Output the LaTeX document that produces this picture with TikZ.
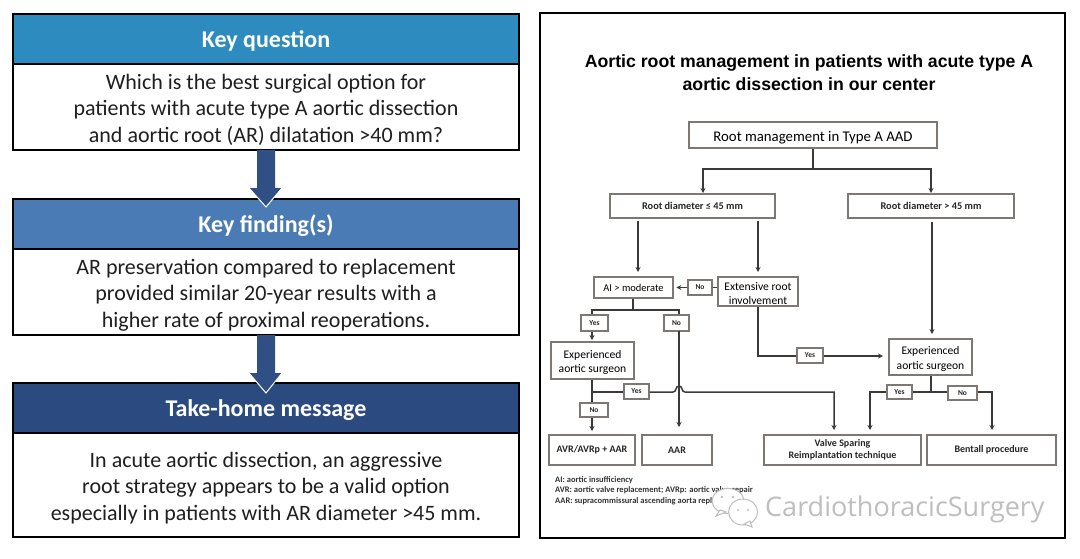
\documentclass[tikz,border=0pt]{standalone}
\usepackage{fontspec}
\setmainfont{Carlito}
\newfontfamily\titlefont{Liberation Sans}
\newfontfamily\markfont{Open Sans}
\usetikzlibrary{arrows.meta}
\definecolor{headone}{HTML}{2E8BC0}
\definecolor{headtwo}{HTML}{4A7BB5}
\definecolor{headthree}{HTML}{2B4A80}
\definecolor{bigarrow}{HTML}{2F4F85}
\definecolor{boxline}{HTML}{7D7873}
\definecolor{linkline}{HTML}{3C3A38}
\definecolor{marktext}{HTML}{BEBEBE}
\newcommand{\lift}{\rule{0pt}{21pt}}
\newcommand{\liftsmall}{\rule{0pt}{12pt}}
\tikzset{
	headbox/.style={draw=black,line width=1.8,text=white,minimum width=506,minimum height=50,inner sep=0,font=\fontsize{24}{26}\selectfont\bfseries},
	bodybox/.style={draw=black,line width=1.8,fill=white,text=black!88,minimum width=506,inner sep=0,align=center,font=\fontsize{22}{26.5}\selectfont},
	flowbox/.style={draw=boxline,line width=1.3,fill=white,text=black,inner sep=0,align=center,font=\fontsize{11.6}{14.5}\selectfont},
	boldbox/.style={flowbox,text=black!85,font=\fontsize{10}{12.5}\selectfont\bfseries},
	tagbox/.style={flowbox,text=black!85,font=\fontsize{7.5}{9}\selectfont\bfseries},
	link/.style={draw=linkline,line width=1.5},
	linkto/.style={link,-{Stealth[length=5pt,width=5pt]}},
	notetext/.style={anchor=west,inner sep=0,text=black!80,font=\fontsize{8.5}{10}\selectfont\bfseries}
}
\begin{document}
\begin{tikzpicture}[x=1pt,y=-1pt]
	\useasboundingbox (0,0) rectangle (1080,558);
	% left panel
	\node[bodybox,minimum height=86] (qbody) at (266,107) {\lift Which is the best surgical option for\\patients with acute type A aortic dissection\\and aortic root (AR) dilatation >40 mm?};
	\node[headbox,fill=headone] (qhead) at (266,39) {\lift Key question};
	\node[bodybox,minimum height=86] (fbody) at (266,292) {\lift AR preservation compared to replacement\\provided similar 20-year results with a\\higher rate of proximal reoperations.};
	\node[headbox,fill=headtwo] (fhead) at (266,224) {\lift Key finding(s)};
	\node[bodybox,minimum height=104] (mbody) at (266,485) {\lift In acute aortic dissection, an aggressive\\root strategy appears to be a valid option\\especially in patients with AR diameter >45 mm.};
	\node[headbox,fill=headthree] (mhead) at (266,408) {\lift Take-home message};
	\fill[bigarrow] (257,150) -- (275,150) -- (275,188) -- (282,188) -- (266,207) -- (249,188) -- (257,188) -- cycle;
	\draw[white,line width=1] (282,188) -- (266,207) -- (249,188);
	\fill[bigarrow] (257,335) -- (275,335) -- (275,373) -- (282,373) -- (266,393) -- (249,373) -- (257,373) -- cycle;
	\draw[white,line width=1] (282,373) -- (266,393) -- (249,373);
	% right panel
	\draw[line width=1.8] (540,13) rectangle (1065,538);
	\node[align=center,inner sep=0,font=\titlefont\fontsize{17.7}{23}\selectfont\bfseries] (heading) at (809,73) {Aortic root management in patients with acute type A\\aortic dissection in our center};
	\node[flowbox,minimum width=248,minimum height=26,font=\fontsize{14.8}{16}\selectfont] (root) at (813,135) {\rule{0pt}{15pt}Root management in Type A AAD};
	\node[boldbox,minimum width=165,minimum height=24,font=\fontsize{10.3}{12.5}\selectfont\bfseries] (small) at (692.5,206) {Root diameter ≤ 45 mm};
	\node[boldbox,minimum width=166,minimum height=24,font=\fontsize{10.3}{12.5}\selectfont\bfseries] (large) at (931,206) {Root diameter > 45 mm};
	\node[flowbox,minimum width=79,minimum height=21,font=\fontsize{10.5}{13}\selectfont] (insuf) at (633.5,287.5) {AI > moderate};
	\node[tagbox,minimum width=24,minimum height=15] (nocross) at (700,287.5) {No};
	\node[flowbox,minimum width=80,minimum height=29] (extent) at (758,291.5) {\liftsmall Extensive root\\involvement};
	\node[tagbox,minimum width=27,minimum height=16] (yesa) at (594.5,323) {Yes};
	\node[tagbox,minimum width=25,minimum height=16] (noa) at (676.5,323) {No};
	\node[flowbox,minimum width=83,minimum height=37] (surgleft) at (592.5,360.5) {\liftsmall Experienced\\aortic surgeon};
	\node[tagbox,minimum width=25,minimum height=15] (yesb) at (636.5,391.5) {Yes};
	\node[tagbox,minimum width=28,minimum height=14] (nob) at (594,410) {No};
	\node[tagbox,minimum width=26,minimum height=15] (yesc) at (810,355.5) {Yes};
	\node[flowbox,minimum width=83,minimum height=36] (surgright) at (930.5,357) {\liftsmall Experienced\\aortic surgeon};
	\node[tagbox,minimum width=25,minimum height=14] (yesd) at (899.5,392) {Yes};
	\node[tagbox,minimum width=29,minimum height=14] (nod) at (962.5,393) {No};
	\node[boldbox,minimum width=86,minimum height=30] (avr) at (592,450) {AVR/AVRp + AAR};
	\node[boldbox,minimum width=70,minimum height=30] (aar) at (677,450) {AAR};
	\node[boldbox,minimum width=157,minimum height=30] (valve) at (842.5,450) {Valve Sparing\\Reimplantation technique};
	\node[boldbox,minimum width=129,minimum height=30] (bentall) at (991.5,450) {Bentall procedure};
	% junctions and free ends
	\coordinate (split) at (813,169);
	\coordinate (smallin) at (703,193);
	\coordinate (largein) at (931,193);
	\coordinate (smalla) at (638,221);
	\coordinate (smallb) at (758,221);
	\coordinate (largeout) at (932,222);
	\coordinate (insufsplit) at (633,310);
	\coordinate (surgsplit) at (592,392);
	\coordinate (noaline) at (679,331);
	\coordinate (rightsplit) at (931,392);
	\coordinate (extturn) at (758,356);
	% connectors
	\draw[link] (root.south -| split) -- (split);
	\draw[linkto] (split) -| (smallin);
	\draw[linkto] (split) -| (largein);
	\draw[linkto] (smalla) -- (638,272);
	\draw[linkto] (smallb) -- (758,272);
	\draw[linkto] (largeout) -- (932,334);
	\draw[link] (extent.west |- nocross) -- (nocross.east);
	\draw[linkto] (nocross.west) -- ++(-11,0);
	\draw[link] (insuf.south -| insufsplit) -- (insufsplit);
	\draw[link] (insufsplit) -| (surgsplit |- yesa.north);
	\draw[link] (insufsplit) -| (noaline |- noa.north);
	\draw[linkto] (surgsplit |- yesa.south) -- (surgsplit |- 0,340);
	\draw[linkto] (noaline) -- (679,427);
	\draw[link] (surgsplit |- surgleft.south) -- (surgsplit |- nob.north);
	\draw[linkto] (surgsplit |- nob.south) -- (surgsplit |- 0,431);
	\draw[link] (surgsplit) -- (yesb.west |- surgsplit);
	\draw[linkto] (yesb.east |- surgsplit) -- (673,392) .. controls (677,392) and (675,386) .. (679,386) .. controls (683,386) and (681,392) .. (685,392) -- (834,392) -- (834,430);
	\draw[link] (extent.south) |- (extturn) -- (yesc.west |- extturn);
	\draw[linkto] (yesc.east |- extturn) -- (883,356);
	\draw[link] (rightsplit |- surgright.south) -- (rightsplit);
	\draw[link] (rightsplit) -- (yesd.east |- rightsplit);
	\draw[linkto] (yesd.west |- rightsplit) -| (870,430);
	\draw[link] (rightsplit) -- (nod.west |- rightsplit);
	\draw[linkto] (nod.east |- rightsplit) -| (992,430);
	% footnotes
	\node[notetext] (notea) at (555,480) {AI: aortic insufficiency};
	\node[notetext] (noteb) at (555,490.5) {AVR: aortic valve replacement; AVRp: aortic valve repair};
	\node[notetext] (notec) at (555,501.5) {AAR: supracommissural ascending aorta replacement};
	% watermark
	\draw[marktext,fill=white,line width=1] (728,501) ellipse (16 and 12.5);
	\draw[marktext,fill=white,line width=1] (716,516) -- (720,510) -- (726,512) -- cycle;
	\draw[marktext,fill=white,line width=1] (743,512) ellipse (14.5 and 13);
	\draw[marktext,fill=white,line width=1] (752,527) -- (750,521) -- (744,524) -- cycle;
	\fill[marktext] (722,497) circle (1.3) (733,497) circle (1.3) (738,510) circle (1.2) (748,510) circle (1.2);
	\node[anchor=west,inner sep=0,text=marktext,font=\markfont\fontsize{27}{30}\selectfont] (mark) at (765,509) {CardiothoracicSurgery};
\end{tikzpicture}
\end{document}
